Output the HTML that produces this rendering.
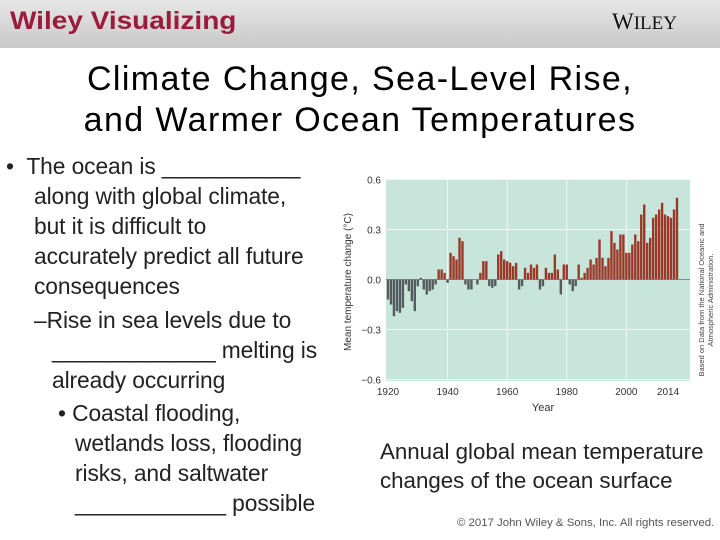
<!DOCTYPE html>
<html><head><meta charset="utf-8"><style>
body{margin:0;width:720px;height:540px;overflow:hidden;background:#fff;font-family:"Liberation Sans",sans-serif;position:relative}
.hdr{position:absolute;left:0;top:0;width:720px;height:48px;background:linear-gradient(#e6e6e6,#c9c9c9)}
.t{position:absolute;white-space:nowrap}
</style></head><body>
<div class="hdr"></div>
<div class="t" style="left:10px;top:7px;font-size:25px;font-weight:bold;color:#9b1b3a;transform-origin:0 0;transform:scaleX(1.12)">Wiley Visualizing</div>
<div class="t" style="left:612px;top:9px;font-family:'Liberation Serif',serif;font-size:23px;color:#111">W<span style="font-size:19px">ILEY</span></div>
<div class="t" style="left:0;width:720px;top:59px;text-align:center;font-size:34px;line-height:41px;color:#000;letter-spacing:1.4px">Climate Change, Sea-Level Rise,<br>and Warmer Ocean Temperatures</div>
<div class="t" style="left:6px;top:151px;font-size:22.8px;line-height:30px;color:#222;letter-spacing:-0.1px">
<div>•&nbsp;&nbsp;The ocean is ___________</div>
<div style="padding-left:28px">along with global climate,<br>but it is difficult to<br>accurately predict all future<br>consequences</div>
<div style="padding-left:28px;margin-top:4px">–Rise in sea levels due to</div>
<div style="padding-left:46px">_____________ melting is<br>already occurring</div>
<div style="padding-left:52px;margin-top:3px">• Coastal flooding,</div>
<div style="padding-left:69px">wetlands loss, flooding<br>risks, and saltwater<br>____________ possible</div>
</div>
<div class="t" style="left:380px;top:437px;font-size:22.3px;line-height:29px;color:#222">Annual global mean temperature<br>changes of the ocean surface</div>
<div class="t" style="left:457px;top:517px;font-size:11.4px;color:#555">© 2017 John Wiley &amp; Sons, Inc. All rights reserved.</div>
<svg id="chart" width="720" height="540" style="position:absolute;left:0;top:0"></svg>
<script>
const startYear=1920;
const values=[-0.12,-0.15,-0.22,-0.19,-0.20,-0.17,-0.03,-0.07,-0.13,-0.19,-0.04,0.01,-0.06,-0.09,-0.07,-0.06,-0.03,0.06,0.06,0.04,
-0.02,0.16,0.14,0.12,0.25,0.23,-0.03,-0.06,-0.06,0.0,-0.03,0.04,0.11,0.11,-0.04,-0.05,-0.04,0.15,0.17,0.12,
0.11,0.10,0.08,0.10,-0.06,-0.04,0.07,0.04,0.09,0.07,0.09,-0.06,-0.04,0.07,0.04,0.04,0.15,0.06,-0.09,0.09,
0.09,-0.03,-0.07,-0.04,0.09,0.01,0.04,0.07,0.12,0.09,0.13,0.24,0.13,0.08,0.13,0.29,0.22,0.18,0.27,0.27,
0.16,0.16,0.21,0.27,0.23,0.39,0.45,0.22,0.25,0.37,0.39,0.42,0.46,0.39,0.38,0.37,0.42,0.49];
const yTicks=[0.6,0.3,0.0,-0.3,-0.6];
const yTickLabels=["0.6","0.3","0.0","−0.3","−0.6"];
const xTicks=[1920,1940,1960,1980,2000,2014];
const ns="http://www.w3.org/2000/svg",svg=document.getElementById('chart');
const L=386,R=690,T=180,B=381;
const bw=289/97;
const x=y=>388+(y-1920)*bw;
const yv=v=>279.5-v*(100/0.6);
function mk(t,a,p){const e=document.createElementNS(ns,t);for(const k in a)e.setAttribute(k,a[k]);(p||svg).appendChild(e);return e;}
const bg=mk('rect',{x:L,y:T,width:R-L,height:B-T,fill:'#c7e5da'});


yTicks.forEach((v,i)=>{
 const g=mk('line',{x1:L,x2:R,y1:yv(v),y2:yv(v),stroke:'#eef7f3','stroke-width':1});
 
 
 const t=mk('text',{x:381,y:yv(v)+4,'text-anchor':'end','font-size':10,fill:'#333'});t.textContent=yTickLabels[i];
 
 
});
xTicks.forEach(yr=>{
 if(yr!==1920&&yr!==2014){const g=mk('line',{x1:x(yr),x2:x(yr),y1:T,y2:B,stroke:'#eef7f3','stroke-width':1});
 
 }
 const t=mk('text',{x:x(yr),y:395,'text-anchor':'middle','font-size':10,fill:'#333'});t.textContent=yr;
 
 
});
values.forEach((v,i)=>{
 const cx=x(startYear+i);
 const r=mk('rect',{x:cx-bw/2+0.3,width:bw-0.6,y:Math.min(yv(v),yv(0)),height:Math.abs(yv(v)-yv(0)),fill:v>=0?'#9a3727':'#555a5c'});
 
 
});
const z=mk('line',{x1:L,x2:R,y1:yv(0),y2:yv(0),stroke:'#5a6e68','stroke-width':0.8});


const xt=mk('text',{x:543,y:411,'text-anchor':'middle','font-size':11,fill:'#333'});xt.textContent='Year';


const yt=mk('text',{x:0,y:0,'text-anchor':'middle','font-size':10,fill:'#333',transform:'translate(351,282) rotate(-90)'});yt.textContent='Mean temperature change (°C)';


const s1=mk('text',{x:0,y:0,'text-anchor':'middle','font-size':7.5,fill:'#444',transform:'translate(704,300) rotate(-90)'});s1.textContent='Based on Data from the National Oceanic and';


const s2=mk('text',{x:0,y:0,'text-anchor':'middle','font-size':7.5,fill:'#444',transform:'translate(713,300) rotate(-90)'});s2.textContent='Atmospheric Administration.';


</script>
</body></html>
